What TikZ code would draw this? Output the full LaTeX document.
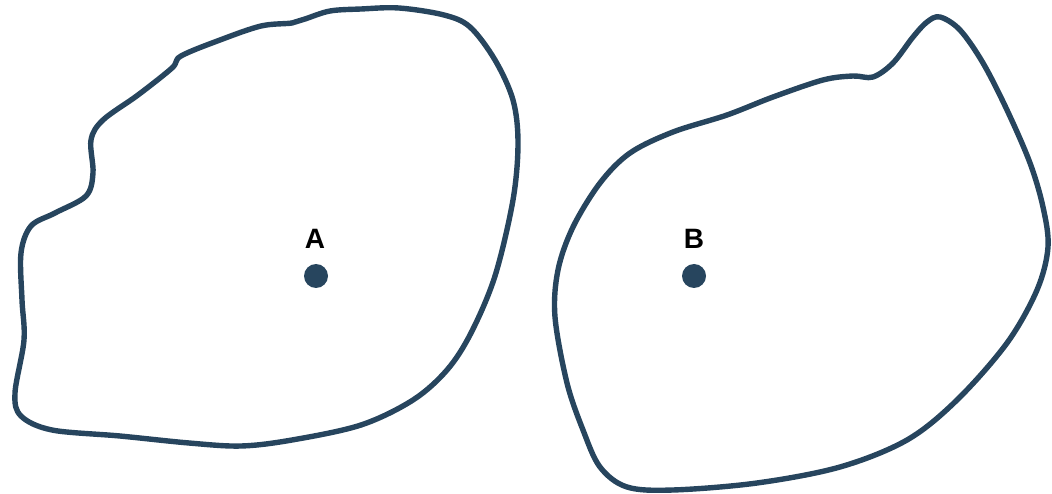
\documentclass[tikz,border=0pt]{standalone}
\usepackage{fontspec}
\setmainfont{Liberation Sans}
\definecolor{ink}{RGB}{39,69,94}
\tikzset{
  region/.style={draw=ink, line width=5.4pt, line join=round, smooth cycle, tension=0.55},
  pt/.style={circle, fill=ink, inner sep=0pt, minimum size=24pt},
  lbl/.style={font=\fontsize{28}{32}\selectfont\bfseries, text=black, inner sep=0pt}
}
\begin{document}
\begin{tikzpicture}[x=1pt, y=-1pt]
  \useasboundingbox (0,0) rectangle (1052,494);
  % region around A
  \draw[region] plot coordinates {
    (181,56) (220,40) (261,26) (292,23) (305,19) (330,11) (361,9) (399,8)
    (444,15) (470,27) (495,60) (513,100) (518,143) (513,200) (495,276)
    (471,333) (447,370) (413,400) (361,425) (292,440) (241,446) (189,443)
    (120,436) (52,430) (21,416) (15,393) (24,340) (22,300) (21,253)
    (31,226) (55,213) (86,196) (93,173) (91,140) (103,120) (138,95)
    (172,68)};
  % region around B
  \draw[region] plot coordinates {
    (940,17) (927,22) (913,37) (893,63) (873,77) (853,76) (823,80)
    (773,97) (727,115) (673,132) (630,153) (600,183) (573,227) (558,270)
    (555,317) (567,383) (583,430) (600,467) (627,487) (673,490) (757,483)
    (840,467) (907,440) (957,400) (1007,343) (1037,290) (1048,247)
    (1043,207) (1030,163) (1007,110) (983,63) (960,30)};
  \node[pt] (a) at (316,276) {};
  \node[pt] (b) at (694,276) {};
  \node[lbl] (la) at (315,239) {A};
  \node[lbl] (lb) at (694,239) {B};
\end{tikzpicture}
\end{document}
